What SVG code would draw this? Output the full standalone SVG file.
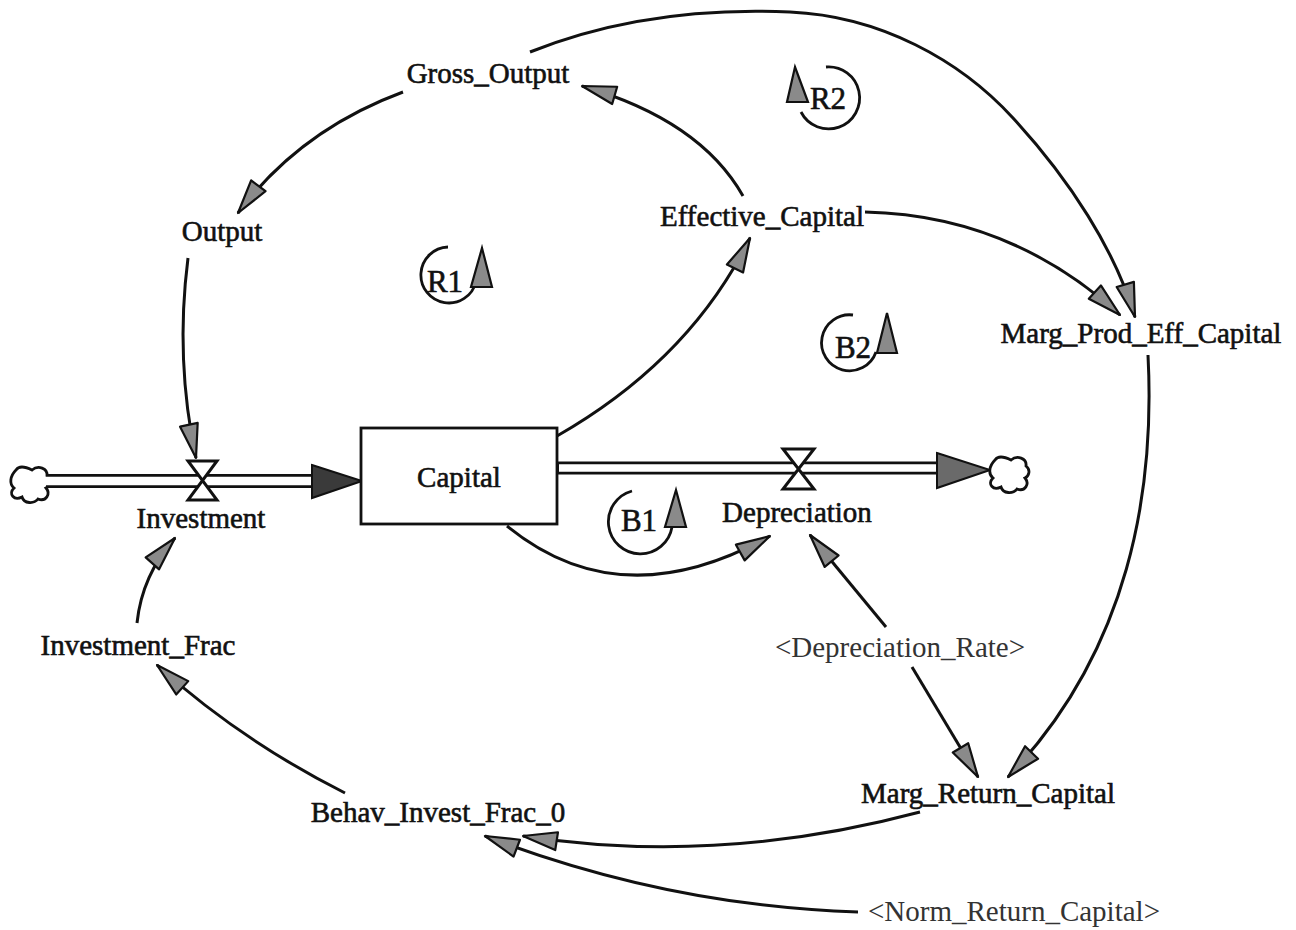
<svg xmlns="http://www.w3.org/2000/svg" width="1296" height="930" viewBox="0 0 1296 930">
<style>
text{font-family:"Liberation Serif","Times New Roman",serif;font-size:29px;fill:#111;stroke:#111;stroke-width:0.6;text-anchor:middle}
.shadow{fill:#333;stroke:none}
.loop{font-size:31px}
.link{fill:none;stroke:#111;stroke-width:3;marker-end:url(#ah)}
.loopArc{fill:none;stroke:#111;stroke-width:2.8}
.loopHead{fill:#8a8a8a;stroke:#111;stroke-width:2.2}
.pipeOut{stroke:#111;fill:none}
.pipeIn{stroke:#fff;fill:none}
.valve{fill:#fff;stroke:#111;stroke-width:3;stroke-linejoin:miter}
.cloud{fill:#fff;stroke:#111;stroke-width:2.8}
.flowHead{stroke:#111;stroke-width:2}
</style>
<defs>
<marker id="ah" viewBox="0 0 38 22" markerUnits="userSpaceOnUse" markerWidth="38" markerHeight="22" refX="36" refY="11" orient="auto" overflow="visible">
<path d="M2,2 L36,11 L2,20 Z" fill="#8a8a8a" stroke="#111" stroke-width="2.2" stroke-linejoin="round"/>
</marker>
<path id="cloudShape" d="M-14,-14 C-10,-20 -2,-16 2,-14 C8,-19 18,-16 17,-8 C22,-4 20,2 16,4 C21,10 16,18 8,15 C4,20 -6,20 -8,13 C-16,17 -22,10 -16,4 C-21,0 -20,-8 -14,-14 Z"/>
</defs>
<rect width="1296" height="930" fill="#fff"/>

<g id="connectors">
<path class="link" d="M403,92 Q300,130 238,213"/>
<path class="link" d="M188,258 Q175,360 196,458"/>
<path class="link" d="M743,196 Q700,120 582,86"/>
<path class="link" d="M557,436 Q690,360 750,238"/>
<path class="link" d="M507,526 Q621,619 770,536"/>
<path class="link" d="M886,627 L810,535"/>
<path class="link" d="M912,667 L978,777"/>
<path class="link" d="M865,212 Q1010,215 1120,315"/>
<path class="link" d="M530,52 C610,20 700,8 790,12 C880,16 960,60 1013,118 C1070,180 1115,250 1135,317"/>
<path class="link" d="M1148,355 C1155,490 1130,650 1008,777"/>
<path class="link" d="M920,812 Q718,866 523,836"/>
<path class="link" d="M858,912 Q668,906 485,836"/>
<path class="link" d="M345,793 Q240,740 157,665"/>
<path class="link" d="M137,623 Q142,575 175,538"/>
</g>

<g id="flow-investment">
<use href="#cloudShape" class="cloud" transform="translate(30,484)"/>
<line class="pipeOut" x1="46" y1="481" x2="316" y2="481" stroke-width="14"/>
<line class="pipeIn" x1="44" y1="481" x2="316" y2="481" stroke-width="8.5"/>
<polygon class="flowHead" points="312,465 362,481 312,498" fill="#3a3a3a"/>
<polygon class="valve" points="188,461 217,461 188,500 217,500"/>
<text x="201" y="528">Investment</text>
</g>

<g id="Capital">
<rect x="361" y="428" width="196" height="96" fill="#fff" stroke="#111" stroke-width="2.8"/>
<text x="459" y="487">Capital</text>
</g>

<g id="flow-depreciation">
<line class="pipeOut" x1="557" y1="468" x2="940" y2="468" stroke-width="13"/>
<line class="pipeIn" x1="559" y1="468" x2="940" y2="468" stroke-width="7.5"/>
<polygon class="flowHead" points="937,453 990,470 937,488" fill="#6a6a6a"/>
<use href="#cloudShape" class="cloud" transform="translate(1009,474)"/>
<polygon class="valve" points="783,449 814,449 783,489 814,489"/>
<text x="797" y="522">Depreciation</text>
</g>

<g id="Gross_Output"><text x="488" y="83">Gross_Output</text></g>
<g id="Output"><text x="222" y="241">Output</text></g>
<g id="Effective_Capital"><text x="762" y="226">Effective_Capital</text></g>
<g id="Marg_Prod_Eff_Capital"><text x="1141" y="343">Marg_Prod_Eff_Capital</text></g>
<g id="Investment_Frac"><text x="138" y="655">Investment_Frac</text></g>
<g id="Depreciation_Rate"><text class="shadow" x="900" y="657">&lt;Depreciation_Rate&gt;</text></g>
<g id="Marg_Return_Capital"><text x="988" y="803">Marg_Return_Capital</text></g>
<g id="Behav_Invest_Frac_0"><text x="438" y="822">Behav_Invest_Frac_0</text></g>
<g id="Norm_Return_Capital"><text class="shadow" x="1014" y="921">&lt;Norm_Return_Capital&gt;</text></g>

<g id="loop-R1">
<path class="loopArc" d="M448,247 A28,28 0 1,0 476,282"/>
<polygon class="loopHead" points="482,248 492,287 471,287"/>
<text class="loop" x="445" y="292">R1</text>
</g>
<g id="loop-R2">
<path class="loopArc" d="M826,67 A31,31 0 1,1 801,112"/>
<polygon class="loopHead" points="795,67 808,102 787,102"/>
<text class="loop" x="828" y="109">R2</text>
</g>
<g id="loop-B2">
<path class="loopArc" d="M853,315 A28,28 0 1,0 876,352"/>
<polygon class="loopHead" points="887,313 897,353 877,353"/>
<text class="loop" x="853" y="358">B2</text>
</g>
<g id="loop-B1">
<path class="loopArc" d="M632,491 A32,32 0 1,0 672,527"/>
<polygon class="loopHead" points="676,490 686,527 665,527"/>
<text class="loop" x="639" y="531">B1</text>
</g>
</svg>
